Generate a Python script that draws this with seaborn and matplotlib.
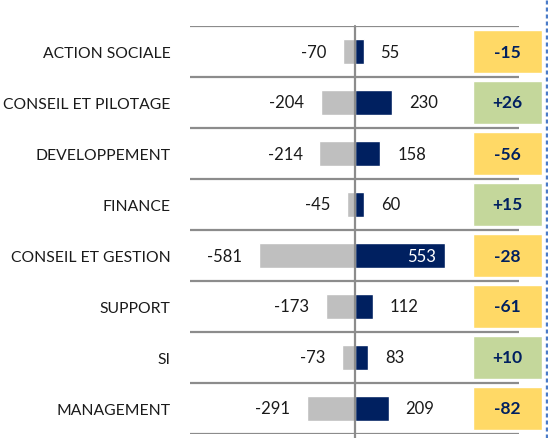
import numpy as np
import pandas as pd
import matplotlib
matplotlib.use('Agg')
import matplotlib.pyplot as plt
import seaborn as sns
from matplotlib.lines import Line2D

categories = ['ACTION SOCIALE', 'CONSEIL ET PILOTAGE', 'DEVELOPPEMENT', 'FINANCE',
              'CONSEIL ET GESTION', 'SUPPORT', 'SI', 'MANAGEMENT']
departs = [-70, -204, -214, -45, -581, -173, -73, -291]
arrivees = [55, 230, 158, 60, 553, 112, 83, 209]
soldes = [-15, 26, -56, 15, -28, -61, 10, -82]

df = pd.DataFrame({'cat': categories, 'neg': departs, 'pos': arrivees, 'solde': soldes})
df['box'] = 1
df['signe'] = np.where(df['solde'] >= 0, 'plus', 'moins')

sns.set_theme(style='white')
plt.rcParams['font.family'] = ['Lato', 'DejaVu Sans']

W, H = 548, 439
fig = plt.figure(figsize=(W / 100, H / 100), dpi=100)

def px_axes(x0, x1, y0, y1):
    # pixel box (from top-left) -> figure axes
    return fig.add_axes([x0 / W, 1 - y1 / H, (x1 - x0) / W, (y1 - y0) / H])

ax = px_axes(190, 519, 27, 435)
navy = '#002060'
grey_bar = '#BFBFBF'
line_col = '#8C8C8C'

sns.barplot(data=df, x='neg', y='cat', color=grey_bar, width=0.5, orient='h', ax=ax, saturation=1)
sns.barplot(data=df, x='pos', y='cat', color=navy, width=0.5, orient='h', ax=ax, saturation=1)
ax.set_xlim(-1000, 1000)
ax.set_ylim(7.5, -0.5)

# separators and center line
for b in np.arange(-0.5, len(categories), 1):
    ax.axhline(b, color=line_col, lw=1.6, zorder=0)
ax.axvline(0, ymin=-0.01, ymax=1, color=line_col, lw=1.6, zorder=3, clip_on=False)

for i, (n, p) in enumerate(zip(departs, arrivees)):
    ax.annotate(f'{n}', (n, i), xytext=(-12, 0), textcoords='offset points',
                ha='right', va='center', fontsize=12, color='#1a1a1a')
    if p > 400:
        ax.annotate(f'{p}', (p, i), xytext=(-7, 0), textcoords='offset points',
                    ha='right', va='center', fontsize=12, color='white')
    else:
        ax.annotate(f'{p}', (p, i), xytext=(12, 0), textcoords='offset points',
                    ha='left', va='center', fontsize=12, color='#1a1a1a')

ax.set_xlabel('')
ax.set_ylabel('')
ax.set_xticks([])
ax.set_yticks(range(len(categories)))
ax.set_yticklabels(categories, fontsize=11.3, color='#1a1a1a')
ax.tick_params(axis='y', length=0, pad=14)
sns.despine(ax=ax, left=True, bottom=True)

# solde column
ax2 = px_axes(473, 542, 27, 435)
sns.barplot(data=df, x='box', y='cat', hue='signe', palette={'plus': '#C4D79B', 'moins': '#FFD966'},
            width=0.84, orient='h', ax=ax2, saturation=1, legend=False, dodge=False)
ax2.set_xlim(0, 1)
ax2.set_ylim(7.5, -0.5)
for i, s in enumerate(soldes):
    ax2.text(0.5, i, f'{s:+d}', ha='center', va='center', fontsize=12.5,
             fontweight='bold', color=navy)
ax2.axis('off')

# dotted frame edge on the right
fig.add_artist(Line2D([546.5 / W, 546.5 / W], [0, 1], color='#4A7BC8', lw=2.4,
                      linestyle=(0, (1.2, 0.9)), transform=fig.transFigure))

fig.savefig('out.png', dpi=100)
